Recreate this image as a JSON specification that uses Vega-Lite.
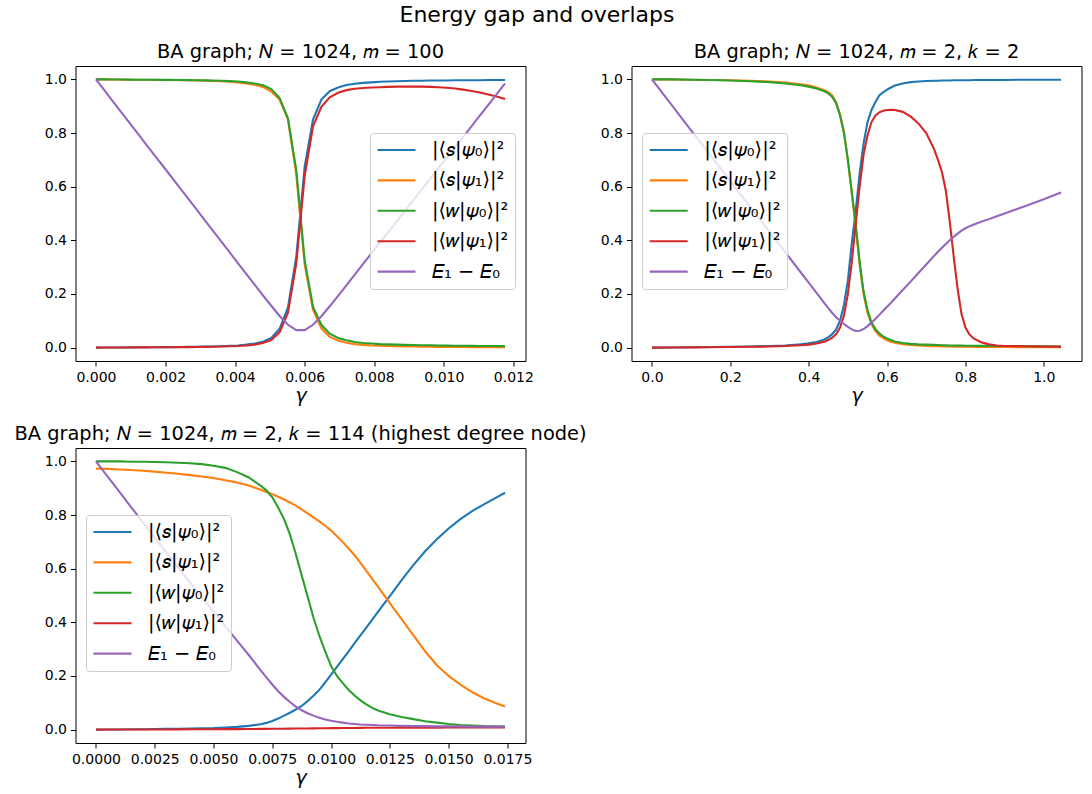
{
  "$schema": "https://vega.github.io/schema/vega-lite/v6.json",
  "padding": {"left": 13.5, "top": 4, "right": 8, "bottom": 4},
  "background": "white",
  "title": {"text": "Energy gap and overlaps", "anchor": "middle", "fontSize": 22, "offset": 14, "dx": -11},
  "config": {
    "font": "DejaVu Sans",
    "view": {"stroke": "black", "strokeWidth": 1},
    "axis": {"grid": false, "domain": false, "tickColor": "black", "tickSize": 5, "tickWidth": 1, "labelColor": "black", "labelFontSize": 14, "labelFont": "DejaVu Sans", "labelPadding": 4, "titleFont": "DejaVu Sans", "titleFontSize": 19.4, "titleFontWeight": "normal", "titleFontStyle": "italic", "titleColor": "black", "titlePadding": 2},
    "title": {"font": "DejaVu Sans", "fontSize": 19.4, "fontWeight": "normal", "color": "black", "offset": 4},
    "legend": {"orient": "none", "title": null, "symbolType": "stroke", "symbolSize": 1444, "symbolStrokeWidth": 2.1, "clipHeight": 22, "labelFont": "DejaVu Sans", "labelFontSize": 19.4, "labelColor": "black", "labelOffset": 15, "labelLimit": 0, "padding": 6, "rowPadding": 8.4, "fillColor": "rgba(255,255,255,0.8)", "strokeColor": "#cccccc", "cornerRadius": 3}
  },
  "datasets": {
    "p1": [
      {"g": 0, "s_psi0": 0, "s_psi1": 1.0, "w_psi0": 1.0, "w_psi1": 0, "gap": 1.0},
      {"g": 0.00024, "s_psi0": 0.0002, "s_psi1": 1.0, "w_psi0": 1.0, "w_psi1": 0.0001, "gap": 0.96},
      {"g": 0.00048, "s_psi0": 0.0004, "s_psi1": 0.9995, "w_psi0": 0.9996, "w_psi1": 0.0003, "gap": 0.919},
      {"g": 0.00072, "s_psi0": 0.0006, "s_psi1": 0.9993, "w_psi0": 0.9994, "w_psi1": 0.0004, "gap": 0.879},
      {"g": 0.00096, "s_psi0": 0.0008, "s_psi1": 0.999, "w_psi0": 0.9992, "w_psi1": 0.0006, "gap": 0.839},
      {"g": 0.0012, "s_psi0": 0.001, "s_psi1": 0.9988, "w_psi0": 0.999, "w_psi1": 0.0007, "gap": 0.799},
      {"g": 0.00144, "s_psi0": 0.0012, "s_psi1": 0.9985, "w_psi0": 0.9988, "w_psi1": 0.0009, "gap": 0.758},
      {"g": 0.00168, "s_psi0": 0.0014, "s_psi1": 0.9982, "w_psi0": 0.9986, "w_psi1": 0.001, "gap": 0.718},
      {"g": 0.00192, "s_psi0": 0.0016, "s_psi1": 0.998, "w_psi0": 0.9984, "w_psi1": 0.0012, "gap": 0.678},
      {"g": 0.00216, "s_psi0": 0.0019, "s_psi1": 0.9976, "w_psi0": 0.9981, "w_psi1": 0.0014, "gap": 0.638},
      {"g": 0.0024, "s_psi0": 0.0022, "s_psi1": 0.9972, "w_psi0": 0.9978, "w_psi1": 0.0016, "gap": 0.597},
      {"g": 0.00264, "s_psi0": 0.0026, "s_psi1": 0.9967, "w_psi0": 0.9974, "w_psi1": 0.0019, "gap": 0.557},
      {"g": 0.00288, "s_psi0": 0.003, "s_psi1": 0.996, "w_psi0": 0.997, "w_psi1": 0.0022, "gap": 0.517},
      {"g": 0.00312, "s_psi0": 0.0036, "s_psi1": 0.9953, "w_psi0": 0.9964, "w_psi1": 0.0027, "gap": 0.476},
      {"g": 0.00336, "s_psi0": 0.0043, "s_psi1": 0.9943, "w_psi0": 0.9957, "w_psi1": 0.0032, "gap": 0.436},
      {"g": 0.0036, "s_psi0": 0.0052, "s_psi1": 0.993, "w_psi0": 0.9948, "w_psi1": 0.004, "gap": 0.396},
      {"g": 0.00384, "s_psi0": 0.0064, "s_psi1": 0.991, "w_psi0": 0.9936, "w_psi1": 0.005, "gap": 0.356},
      {"g": 0.00408, "s_psi0": 0.008, "s_psi1": 0.989, "w_psi0": 0.992, "w_psi1": 0.006, "gap": 0.315},
      {"g": 0.00432, "s_psi0": 0.011, "s_psi1": 0.985, "w_psi0": 0.989, "w_psi1": 0.008, "gap": 0.275},
      {"g": 0.00456, "s_psi0": 0.015, "s_psi1": 0.98, "w_psi0": 0.985, "w_psi1": 0.011, "gap": 0.235},
      {"g": 0.0048, "s_psi0": 0.022, "s_psi1": 0.972, "w_psi0": 0.978, "w_psi1": 0.017, "gap": 0.195},
      {"g": 0.00504, "s_psi0": 0.036, "s_psi1": 0.955, "w_psi0": 0.964, "w_psi1": 0.028, "gap": 0.156},
      {"g": 0.00528, "s_psi0": 0.07, "s_psi1": 0.925, "w_psi0": 0.93, "w_psi1": 0.058, "gap": 0.118},
      {"g": 0.00552, "s_psi0": 0.15, "s_psi1": 0.85, "w_psi0": 0.855, "w_psi1": 0.13, "gap": 0.085},
      {"g": 0.00576, "s_psi0": 0.34, "s_psi1": 0.645, "w_psi0": 0.66, "w_psi1": 0.315, "gap": 0.065},
      {"g": 0.006, "s_psi0": 0.675, "s_psi1": 0.31, "w_psi0": 0.325, "w_psi1": 0.64, "gap": 0.065},
      {"g": 0.00624, "s_psi0": 0.85, "s_psi1": 0.14, "w_psi0": 0.152, "w_psi1": 0.825, "gap": 0.085},
      {"g": 0.00648, "s_psi0": 0.925, "s_psi1": 0.072, "w_psi0": 0.085, "w_psi1": 0.898, "gap": 0.117},
      {"g": 0.00672, "s_psi0": 0.956, "s_psi1": 0.04, "w_psi0": 0.052, "w_psi1": 0.933, "gap": 0.154},
      {"g": 0.00696, "s_psi0": 0.97, "s_psi1": 0.026, "w_psi0": 0.036, "w_psi1": 0.95, "gap": 0.193},
      {"g": 0.0072, "s_psi0": 0.979, "s_psi1": 0.018, "w_psi0": 0.027, "w_psi1": 0.96, "gap": 0.232},
      {"g": 0.00744, "s_psi0": 0.984, "s_psi1": 0.013, "w_psi0": 0.021, "w_psi1": 0.965, "gap": 0.272},
      {"g": 0.00768, "s_psi0": 0.987, "s_psi1": 0.01, "w_psi0": 0.017, "w_psi1": 0.968, "gap": 0.312},
      {"g": 0.00792, "s_psi0": 0.989, "s_psi1": 0.008, "w_psi0": 0.015, "w_psi1": 0.97, "gap": 0.351},
      {"g": 0.00816, "s_psi0": 0.991, "s_psi1": 0.007, "w_psi0": 0.013, "w_psi1": 0.971, "gap": 0.391},
      {"g": 0.0084, "s_psi0": 0.992, "s_psi1": 0.006, "w_psi0": 0.012, "w_psi1": 0.972, "gap": 0.43},
      {"g": 0.00864, "s_psi0": 0.993, "s_psi1": 0.005, "w_psi0": 0.011, "w_psi1": 0.973, "gap": 0.47},
      {"g": 0.00888, "s_psi0": 0.994, "s_psi1": 0.0045, "w_psi0": 0.01, "w_psi1": 0.973, "gap": 0.509},
      {"g": 0.00912, "s_psi0": 0.995, "s_psi1": 0.004, "w_psi0": 0.0095, "w_psi1": 0.973, "gap": 0.549},
      {"g": 0.00936, "s_psi0": 0.995, "s_psi1": 0.0035, "w_psi0": 0.009, "w_psi1": 0.973, "gap": 0.588},
      {"g": 0.0096, "s_psi0": 0.996, "s_psi1": 0.003, "w_psi0": 0.0085, "w_psi1": 0.972, "gap": 0.628},
      {"g": 0.00984, "s_psi0": 0.996, "s_psi1": 0.0028, "w_psi0": 0.008, "w_psi1": 0.971, "gap": 0.668},
      {"g": 0.01008, "s_psi0": 0.996, "s_psi1": 0.0025, "w_psi0": 0.0075, "w_psi1": 0.969, "gap": 0.707},
      {"g": 0.01032, "s_psi0": 0.997, "s_psi1": 0.0023, "w_psi0": 0.007, "w_psi1": 0.966, "gap": 0.747},
      {"g": 0.01056, "s_psi0": 0.997, "s_psi1": 0.002, "w_psi0": 0.0068, "w_psi1": 0.962, "gap": 0.786},
      {"g": 0.0108, "s_psi0": 0.997, "s_psi1": 0.0018, "w_psi0": 0.0065, "w_psi1": 0.957, "gap": 0.826},
      {"g": 0.01104, "s_psi0": 0.997, "s_psi1": 0.0016, "w_psi0": 0.0062, "w_psi1": 0.951, "gap": 0.866},
      {"g": 0.01128, "s_psi0": 0.998, "s_psi1": 0.0015, "w_psi0": 0.006, "w_psi1": 0.944, "gap": 0.905},
      {"g": 0.01152, "s_psi0": 0.998, "s_psi1": 0.0013, "w_psi0": 0.0058, "w_psi1": 0.936, "gap": 0.945},
      {"g": 0.01176, "s_psi0": 0.998, "s_psi1": 0.0012, "w_psi0": 0.0055, "w_psi1": 0.927, "gap": 0.985}
    ],
    "p2": [
      {"g": 0, "s_psi0": 0, "s_psi1": 1.0, "w_psi0": 1.0, "w_psi1": 0, "gap": 1.0},
      {"g": 0.05, "s_psi0": 0.0003, "s_psi1": 1.0, "w_psi0": 1.0, "w_psi1": 0.0002, "gap": 0.905},
      {"g": 0.1, "s_psi0": 0.001, "s_psi1": 0.999, "w_psi0": 0.999, "w_psi1": 0.0007, "gap": 0.81},
      {"g": 0.15, "s_psi0": 0.002, "s_psi1": 0.998, "w_psi0": 0.998, "w_psi1": 0.0013, "gap": 0.716},
      {"g": 0.2, "s_psi0": 0.003, "s_psi1": 0.997, "w_psi0": 0.996, "w_psi1": 0.002, "gap": 0.621},
      {"g": 0.25, "s_psi0": 0.004, "s_psi1": 0.995, "w_psi0": 0.993, "w_psi1": 0.003, "gap": 0.526},
      {"g": 0.3, "s_psi0": 0.006, "s_psi1": 0.992, "w_psi0": 0.99, "w_psi1": 0.004, "gap": 0.432},
      {"g": 0.34, "s_psi0": 0.008, "s_psi1": 0.988, "w_psi0": 0.985, "w_psi1": 0.006, "gap": 0.356},
      {"g": 0.38, "s_psi0": 0.012, "s_psi1": 0.982, "w_psi0": 0.978, "w_psi1": 0.009, "gap": 0.28},
      {"g": 0.4, "s_psi0": 0.016, "s_psi1": 0.978, "w_psi0": 0.973, "w_psi1": 0.011, "gap": 0.242},
      {"g": 0.42, "s_psi0": 0.021, "s_psi1": 0.97, "w_psi0": 0.966, "w_psi1": 0.015, "gap": 0.204},
      {"g": 0.44, "s_psi0": 0.03, "s_psi1": 0.96, "w_psi0": 0.956, "w_psi1": 0.022, "gap": 0.166},
      {"g": 0.45, "s_psi0": 0.038, "s_psi1": 0.953, "w_psi0": 0.948, "w_psi1": 0.028, "gap": 0.147},
      {"g": 0.46, "s_psi0": 0.05, "s_psi1": 0.94, "w_psi0": 0.935, "w_psi1": 0.037, "gap": 0.129},
      {"g": 0.47, "s_psi0": 0.068, "s_psi1": 0.915, "w_psi0": 0.91, "w_psi1": 0.05, "gap": 0.113},
      {"g": 0.48, "s_psi0": 0.1, "s_psi1": 0.87, "w_psi0": 0.865, "w_psi1": 0.075, "gap": 0.1},
      {"g": 0.49, "s_psi0": 0.16, "s_psi1": 0.805, "w_psi0": 0.8, "w_psi1": 0.12, "gap": 0.088},
      {"g": 0.5, "s_psi0": 0.25, "s_psi1": 0.7, "w_psi0": 0.7, "w_psi1": 0.2, "gap": 0.077},
      {"g": 0.51, "s_psi0": 0.39, "s_psi1": 0.575, "w_psi0": 0.58, "w_psi1": 0.32, "gap": 0.068},
      {"g": 0.52, "s_psi0": 0.51, "s_psi1": 0.45, "w_psi0": 0.46, "w_psi1": 0.46, "gap": 0.062},
      {"g": 0.53, "s_psi0": 0.65, "s_psi1": 0.31, "w_psi0": 0.32, "w_psi1": 0.6, "gap": 0.063},
      {"g": 0.54, "s_psi0": 0.76, "s_psi1": 0.2, "w_psi0": 0.21, "w_psi1": 0.72, "gap": 0.069},
      {"g": 0.55, "s_psi0": 0.84, "s_psi1": 0.13, "w_psi0": 0.14, "w_psi1": 0.79, "gap": 0.08},
      {"g": 0.56, "s_psi0": 0.885, "s_psi1": 0.088, "w_psi0": 0.095, "w_psi1": 0.84, "gap": 0.093},
      {"g": 0.57, "s_psi0": 0.915, "s_psi1": 0.062, "w_psi0": 0.07, "w_psi1": 0.865, "gap": 0.107},
      {"g": 0.58, "s_psi0": 0.94, "s_psi1": 0.045, "w_psi0": 0.053, "w_psi1": 0.877, "gap": 0.122},
      {"g": 0.59, "s_psi0": 0.952, "s_psi1": 0.035, "w_psi0": 0.042, "w_psi1": 0.883, "gap": 0.137},
      {"g": 0.6, "s_psi0": 0.962, "s_psi1": 0.027, "w_psi0": 0.034, "w_psi1": 0.886, "gap": 0.152},
      {"g": 0.61, "s_psi0": 0.97, "s_psi1": 0.022, "w_psi0": 0.028, "w_psi1": 0.887, "gap": 0.167},
      {"g": 0.62, "s_psi0": 0.977, "s_psi1": 0.018, "w_psi0": 0.023, "w_psi1": 0.886, "gap": 0.183},
      {"g": 0.64, "s_psi0": 0.985, "s_psi1": 0.013, "w_psi0": 0.017, "w_psi1": 0.879, "gap": 0.215},
      {"g": 0.66, "s_psi0": 0.99, "s_psi1": 0.01, "w_psi0": 0.014, "w_psi1": 0.862, "gap": 0.246},
      {"g": 0.68, "s_psi0": 0.992, "s_psi1": 0.008, "w_psi0": 0.012, "w_psi1": 0.836, "gap": 0.278},
      {"g": 0.7, "s_psi0": 0.994, "s_psi1": 0.006, "w_psi0": 0.011, "w_psi1": 0.8, "gap": 0.31},
      {"g": 0.72, "s_psi0": 0.995, "s_psi1": 0.005, "w_psi0": 0.01, "w_psi1": 0.74, "gap": 0.342},
      {"g": 0.73, "s_psi0": 0.995, "s_psi1": 0.005, "w_psi0": 0.0095, "w_psi1": 0.7, "gap": 0.357},
      {"g": 0.74, "s_psi0": 0.996, "s_psi1": 0.0045, "w_psi0": 0.009, "w_psi1": 0.655, "gap": 0.372},
      {"g": 0.75, "s_psi0": 0.996, "s_psi1": 0.004, "w_psi0": 0.0085, "w_psi1": 0.585, "gap": 0.386},
      {"g": 0.76, "s_psi0": 0.996, "s_psi1": 0.004, "w_psi0": 0.008, "w_psi1": 0.47, "gap": 0.4},
      {"g": 0.77, "s_psi0": 0.997, "s_psi1": 0.0035, "w_psi0": 0.008, "w_psi1": 0.34, "gap": 0.413},
      {"g": 0.78, "s_psi0": 0.997, "s_psi1": 0.0035, "w_psi0": 0.0075, "w_psi1": 0.22, "gap": 0.425},
      {"g": 0.79, "s_psi0": 0.997, "s_psi1": 0.003, "w_psi0": 0.0075, "w_psi1": 0.125, "gap": 0.436},
      {"g": 0.8, "s_psi0": 0.997, "s_psi1": 0.003, "w_psi0": 0.007, "w_psi1": 0.075, "gap": 0.445},
      {"g": 0.81, "s_psi0": 0.997, "s_psi1": 0.003, "w_psi0": 0.007, "w_psi1": 0.05, "gap": 0.452},
      {"g": 0.82, "s_psi0": 0.998, "s_psi1": 0.0028, "w_psi0": 0.007, "w_psi1": 0.035, "gap": 0.458},
      {"g": 0.84, "s_psi0": 0.998, "s_psi1": 0.0025, "w_psi0": 0.0065, "w_psi1": 0.02, "gap": 0.469},
      {"g": 0.86, "s_psi0": 0.998, "s_psi1": 0.0022, "w_psi0": 0.0063, "w_psi1": 0.012, "gap": 0.479},
      {"g": 0.88, "s_psi0": 0.998, "s_psi1": 0.002, "w_psi0": 0.006, "w_psi1": 0.008, "gap": 0.49},
      {"g": 0.9, "s_psi0": 0.998, "s_psi1": 0.002, "w_psi0": 0.006, "w_psi1": 0.006, "gap": 0.5},
      {"g": 0.95, "s_psi0": 0.999, "s_psi1": 0.0015, "w_psi0": 0.0055, "w_psi1": 0.005, "gap": 0.526},
      {"g": 1.0, "s_psi0": 0.999, "s_psi1": 0.0012, "w_psi0": 0.005, "w_psi1": 0.004, "gap": 0.553},
      {"g": 1.044, "s_psi0": 0.999, "s_psi1": 0.001, "w_psi0": 0.005, "w_psi1": 0.003, "gap": 0.578}
    ],
    "p3": [
      {"g": 0, "s_psi0": 0, "s_psi1": 0.973, "w_psi0": 1.0, "w_psi1": 0, "gap": 1.0},
      {"g": 0.0005, "s_psi0": 0.0003, "s_psi1": 0.972, "w_psi0": 1.0, "w_psi1": 0.0001, "gap": 0.943},
      {"g": 0.001, "s_psi0": 0.0006, "s_psi1": 0.97, "w_psi0": 1.0, "w_psi1": 0.0002, "gap": 0.886},
      {"g": 0.0015, "s_psi0": 0.001, "s_psi1": 0.968, "w_psi0": 0.999, "w_psi1": 0.0003, "gap": 0.829},
      {"g": 0.002, "s_psi0": 0.0015, "s_psi1": 0.965, "w_psi0": 0.999, "w_psi1": 0.0004, "gap": 0.773},
      {"g": 0.0025, "s_psi0": 0.002, "s_psi1": 0.962, "w_psi0": 0.998, "w_psi1": 0.0005, "gap": 0.716},
      {"g": 0.003, "s_psi0": 0.0026, "s_psi1": 0.958, "w_psi0": 0.997, "w_psi1": 0.0006, "gap": 0.66},
      {"g": 0.0035, "s_psi0": 0.0033, "s_psi1": 0.954, "w_psi0": 0.995, "w_psi1": 0.0008, "gap": 0.604},
      {"g": 0.004, "s_psi0": 0.004, "s_psi1": 0.949, "w_psi0": 0.993, "w_psi1": 0.001, "gap": 0.549},
      {"g": 0.0045, "s_psi0": 0.005, "s_psi1": 0.944, "w_psi0": 0.99, "w_psi1": 0.0012, "gap": 0.494},
      {"g": 0.005, "s_psi0": 0.006, "s_psi1": 0.938, "w_psi0": 0.984, "w_psi1": 0.0014, "gap": 0.44},
      {"g": 0.0055, "s_psi0": 0.008, "s_psi1": 0.93, "w_psi0": 0.976, "w_psi1": 0.0016, "gap": 0.386},
      {"g": 0.006, "s_psi0": 0.01, "s_psi1": 0.921, "w_psi0": 0.96, "w_psi1": 0.0019, "gap": 0.332},
      {"g": 0.0065, "s_psi0": 0.014, "s_psi1": 0.91, "w_psi0": 0.94, "w_psi1": 0.0022, "gap": 0.278},
      {"g": 0.007, "s_psi0": 0.02, "s_psi1": 0.894, "w_psi0": 0.91, "w_psi1": 0.0026, "gap": 0.222},
      {"g": 0.00725, "s_psi0": 0.025, "s_psi1": 0.886, "w_psi0": 0.892, "w_psi1": 0.0028, "gap": 0.195},
      {"g": 0.0075, "s_psi0": 0.032, "s_psi1": 0.878, "w_psi0": 0.866, "w_psi1": 0.003, "gap": 0.168},
      {"g": 0.00775, "s_psi0": 0.041, "s_psi1": 0.868, "w_psi0": 0.828, "w_psi1": 0.0032, "gap": 0.143},
      {"g": 0.008, "s_psi0": 0.052, "s_psi1": 0.858, "w_psi0": 0.785, "w_psi1": 0.0034, "gap": 0.122},
      {"g": 0.00825, "s_psi0": 0.063, "s_psi1": 0.847, "w_psi0": 0.728, "w_psi1": 0.0036, "gap": 0.103},
      {"g": 0.0085, "s_psi0": 0.075, "s_psi1": 0.835, "w_psi0": 0.655, "w_psi1": 0.0038, "gap": 0.086},
      {"g": 0.00875, "s_psi0": 0.088, "s_psi1": 0.821, "w_psi0": 0.575, "w_psi1": 0.004, "gap": 0.072},
      {"g": 0.009, "s_psi0": 0.106, "s_psi1": 0.806, "w_psi0": 0.497, "w_psi1": 0.0043, "gap": 0.061},
      {"g": 0.00925, "s_psi0": 0.126, "s_psi1": 0.791, "w_psi0": 0.418, "w_psi1": 0.0045, "gap": 0.052},
      {"g": 0.0095, "s_psi0": 0.148, "s_psi1": 0.776, "w_psi0": 0.35, "w_psi1": 0.0048, "gap": 0.044},
      {"g": 0.00975, "s_psi0": 0.176, "s_psi1": 0.76, "w_psi0": 0.292, "w_psi1": 0.005, "gap": 0.038},
      {"g": 0.01, "s_psi0": 0.205, "s_psi1": 0.742, "w_psi0": 0.237, "w_psi1": 0.0053, "gap": 0.033},
      {"g": 0.01025, "s_psi0": 0.234, "s_psi1": 0.721, "w_psi0": 0.2, "w_psi1": 0.0055, "gap": 0.029},
      {"g": 0.0105, "s_psi0": 0.263, "s_psi1": 0.699, "w_psi0": 0.173, "w_psi1": 0.0058, "gap": 0.026},
      {"g": 0.01075, "s_psi0": 0.292, "s_psi1": 0.675, "w_psi0": 0.148, "w_psi1": 0.006, "gap": 0.023},
      {"g": 0.011, "s_psi0": 0.322, "s_psi1": 0.65, "w_psi0": 0.127, "w_psi1": 0.0062, "gap": 0.021},
      {"g": 0.01125, "s_psi0": 0.351, "s_psi1": 0.622, "w_psi0": 0.109, "w_psi1": 0.0064, "gap": 0.019},
      {"g": 0.0115, "s_psi0": 0.38, "s_psi1": 0.592, "w_psi0": 0.094, "w_psi1": 0.0066, "gap": 0.018},
      {"g": 0.01175, "s_psi0": 0.41, "s_psi1": 0.562, "w_psi0": 0.081, "w_psi1": 0.0068, "gap": 0.017},
      {"g": 0.012, "s_psi0": 0.44, "s_psi1": 0.532, "w_psi0": 0.071, "w_psi1": 0.0069, "gap": 0.016},
      {"g": 0.0125, "s_psi0": 0.498, "s_psi1": 0.472, "w_psi0": 0.057, "w_psi1": 0.0071, "gap": 0.015},
      {"g": 0.013, "s_psi0": 0.557, "s_psi1": 0.412, "w_psi0": 0.047, "w_psi1": 0.0073, "gap": 0.014},
      {"g": 0.0135, "s_psi0": 0.613, "s_psi1": 0.352, "w_psi0": 0.039, "w_psi1": 0.0074, "gap": 0.013},
      {"g": 0.014, "s_psi0": 0.665, "s_psi1": 0.292, "w_psi0": 0.031, "w_psi1": 0.0075, "gap": 0.013},
      {"g": 0.0145, "s_psi0": 0.71, "s_psi1": 0.24, "w_psi0": 0.026, "w_psi1": 0.0075, "gap": 0.012},
      {"g": 0.015, "s_psi0": 0.75, "s_psi1": 0.2, "w_psi0": 0.021, "w_psi1": 0.0076, "gap": 0.012},
      {"g": 0.0155, "s_psi0": 0.785, "s_psi1": 0.168, "w_psi0": 0.017, "w_psi1": 0.0076, "gap": 0.012},
      {"g": 0.016, "s_psi0": 0.815, "s_psi1": 0.14, "w_psi0": 0.015, "w_psi1": 0.0076, "gap": 0.011},
      {"g": 0.0165, "s_psi0": 0.84, "s_psi1": 0.117, "w_psi0": 0.013, "w_psi1": 0.0076, "gap": 0.011},
      {"g": 0.017, "s_psi0": 0.864, "s_psi1": 0.099, "w_psi0": 0.012, "w_psi1": 0.0076, "gap": 0.011},
      {"g": 0.0174, "s_psi0": 0.883, "s_psi1": 0.086, "w_psi0": 0.011, "w_psi1": 0.0076, "gap": 0.011}
    ]
  },
  "columns": 2,
  "spacing": {"row": 87, "column": 106},
  "bounds": "flush",
  "resolve": {"scale": {"color": "independent"}, "legend": {"color": "independent"}},
  "concat": [
    {
      "width": 450, "height": 295,
      "title": "BA graph; 𝑁 = 1024, 𝑚 = 100",
      "data": {"name": "p1"},
      "transform": [{"fold": ["s_psi0", "s_psi1", "w_psi0", "w_psi1", "gap"], "as": ["series", "value"]}],
      "mark": {"type": "line", "strokeWidth": 2.1},
      "encoding": {
        "x": {"field": "g", "type": "quantitative", "scale": {"domain": [-0.000588, 0.012348], "nice": false, "zero": false},
              "axis": {"title": "γ", "values": [0, 0.002, 0.004, 0.006, 0.008, 0.01, 0.012], "format": ".3f"}},
        "y": {"field": "value", "type": "quantitative", "scale": {"domain": [-0.05, 1.05], "nice": false, "zero": false},
              "axis": {"title": null, "values": [0, 0.2, 0.4, 0.6, 0.8, 1], "format": ".1f"}},
        "color": {"field": "series", "type": "nominal", "sort": null,
                  "scale": {"domain": ["s_psi0", "s_psi1", "w_psi0", "w_psi1", "gap"], "range": ["#1f77b4", "#ff7f0e", "#2ca02c", "#d62728", "#9467bd"]},
                  "legend": {"legendX": 294.5, "legendY": 67, "labelExpr": "datum.label == 's_psi0' ? '|⟨𝑠|𝜓₀⟩|²' : datum.label == 's_psi1' ? '|⟨𝑠|𝜓₁⟩|²' : datum.label == 'w_psi0' ? '|⟨𝑤|𝜓₀⟩|²' : datum.label == 'w_psi1' ? '|⟨𝑤|𝜓₁⟩|²' : '𝐸₁ − 𝐸₀'"}}
      }
    },
    {
      "width": 450, "height": 295,
      "title": "BA graph; 𝑁 = 1024, 𝑚 = 2, 𝑘 = 2",
      "data": {"name": "p2"},
      "transform": [{"fold": ["s_psi0", "s_psi1", "w_psi0", "w_psi1", "gap"], "as": ["series", "value"]}],
      "mark": {"type": "line", "strokeWidth": 2.1},
      "encoding": {
        "x": {"field": "g", "type": "quantitative", "scale": {"domain": [-0.0522, 1.0962], "nice": false, "zero": false},
              "axis": {"title": "γ", "values": [0, 0.2, 0.4, 0.6, 0.8, 1.0], "format": ".1f"}},
        "y": {"field": "value", "type": "quantitative", "scale": {"domain": [-0.05, 1.05], "nice": false, "zero": false},
              "axis": {"title": null, "values": [0, 0.2, 0.4, 0.6, 0.8, 1], "format": ".1f"}},
        "color": {"field": "series", "type": "nominal", "sort": null,
                  "scale": {"domain": ["s_psi0", "s_psi1", "w_psi0", "w_psi1", "gap"], "range": ["#1f77b4", "#ff7f0e", "#2ca02c", "#d62728", "#9467bd"]},
                  "legend": {"legendX": 10.7, "legendY": 67, "labelExpr": "datum.label == 's_psi0' ? '|⟨𝑠|𝜓₀⟩|²' : datum.label == 's_psi1' ? '|⟨𝑠|𝜓₁⟩|²' : datum.label == 'w_psi0' ? '|⟨𝑤|𝜓₀⟩|²' : datum.label == 'w_psi1' ? '|⟨𝑤|𝜓₁⟩|²' : '𝐸₁ − 𝐸₀'"}}
      }
    },
    {
      "width": 450, "height": 295,
      "title": "BA graph; 𝑁 = 1024, 𝑚 = 2, 𝑘 = 114 (highest degree node)",
      "data": {"name": "p3"},
      "transform": [{"fold": ["s_psi0", "s_psi1", "w_psi0", "w_psi1", "gap"], "as": ["series", "value"]}],
      "mark": {"type": "line", "strokeWidth": 2.1},
      "encoding": {
        "x": {"field": "g", "type": "quantitative", "scale": {"domain": [-0.00087, 0.01827], "nice": false, "zero": false},
              "axis": {"title": "γ", "values": [0, 0.0025, 0.005, 0.0075, 0.01, 0.0125, 0.015, 0.0175], "format": ".4f"}},
        "y": {"field": "value", "type": "quantitative", "scale": {"domain": [-0.05, 1.05], "nice": false, "zero": false},
              "axis": {"title": null, "values": [0, 0.2, 0.4, 0.6, 0.8, 1], "format": ".1f"}},
        "color": {"field": "series", "type": "nominal", "sort": null,
                  "scale": {"domain": ["s_psi0", "s_psi1", "w_psi0", "w_psi1", "gap"], "range": ["#1f77b4", "#ff7f0e", "#2ca02c", "#d62728", "#9467bd"]},
                  "legend": {"legendX": 10.5, "legendY": 67, "labelExpr": "datum.label == 's_psi0' ? '|⟨𝑠|𝜓₀⟩|²' : datum.label == 's_psi1' ? '|⟨𝑠|𝜓₁⟩|²' : datum.label == 'w_psi0' ? '|⟨𝑤|𝜓₀⟩|²' : datum.label == 'w_psi1' ? '|⟨𝑤|𝜓₁⟩|²' : '𝐸₁ − 𝐸₀'"}}
      }
    }
  ]
}
